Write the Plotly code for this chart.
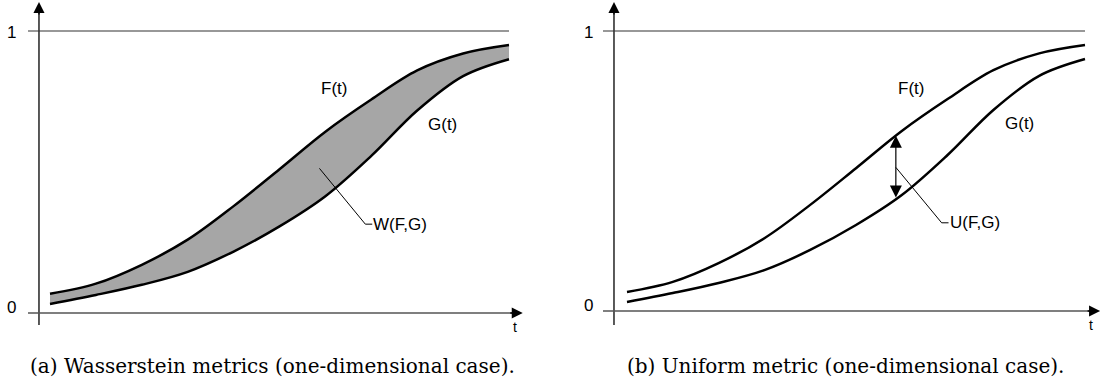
import numpy as np
import plotly.graph_objects as go

# ---- data ----
t_vals = [0, 1, 2, 3, 4, 5, 6, 7, 8, 9, 10]
F_vals = [0.068, 0.104, 0.171, 0.26, 0.379, 0.51, 0.643, 0.757, 0.86, 0.92, 0.95]
G_vals = [0.032, 0.064, 0.10, 0.146, 0.218, 0.307, 0.414, 0.557, 0.718, 0.84, 0.90]
t_star = 5.87  # position of the uniform-metric arrow
caption_a = "(a) Wasserstein metrics (one-dimensional case)."
caption_b = "(b) Uniform metric (one-dimensional case)."

W, H = 1104, 392
SANS = "Liberation Sans, Arial, Helvetica, sans-serif"
SERIF = "DejaVu Serif, Liberation Serif, serif"

fig = go.Figure()

# panel (a): filled area between F and G
fig.add_trace(go.Scatter(x=t_vals, y=G_vals, mode="lines", line=dict(width=0, shape="spline", color="#a6a6a6"),
                         xaxis="x", yaxis="y", showlegend=False, hoverinfo="skip"))
fig.add_trace(go.Scatter(x=t_vals, y=F_vals, mode="lines", line=dict(width=0, shape="spline", color="#a6a6a6"),
                         fill="tonexty", fillcolor="#a6a6a6",
                         xaxis="x", yaxis="y", showlegend=False, hoverinfo="skip"))
for ax, ay in (("x", "y"), ("x2", "y2")):
    for vals in (F_vals, G_vals):
        fig.add_trace(go.Scatter(x=t_vals, y=vals, mode="lines",
                                 line=dict(width=2.5, shape="spline", color="black"),
                                 xaxis=ax, yaxis=ay, showlegend=False, hoverinfo="skip"))

panels = [
    dict(xr="x", yr="y", xaxis_x=-0.24, xstart=-0.479, xtip=10.3, ybot=-0.0426, ytip=1.103,
         label="W(F,G)", cap=caption_a, capx=272),
    dict(xr="x2", yr="y2", xaxis_x=-0.284, xstart=-0.524, xtip=10.33, ybot=-0.05, ytip=1.1036,
         label="U(F,G)", cap=caption_b, capx=845),
]
shapes = []
annotations = []
Fi = float(np.interp(t_star, t_vals, F_vals))
Gi = float(np.interp(t_star, t_vals, G_vals))
mid = (Fi + Gi) / 2
for p in panels:
    xr, yr = p["xr"], p["yr"]
    shapes.append(dict(type="line", xref=xr, yref=yr, x0=p["xaxis_x"], x1=p["xaxis_x"], y0=p["ybot"], y1=p["ytip"] - 0.02,
                       line=dict(color="black", width=1.3)))
    shapes.append(dict(type="line", xref=xr, yref=yr, x0=p["xstart"], x1=p["xtip"] - 0.2, y0=0, y1=0,
                       line=dict(color="#555555", width=1.3)))
    shapes.append(dict(type="line", xref=xr, yref=yr, x0=p["xstart"], x1=10, y0=1, y1=1,
                       line=dict(color="#333333", width=1.2)))
    annotations.append(dict(xref=xr, yref=yr, x=p["xaxis_x"], y=p["ytip"], ax=0, ay=14, text="", showarrow=True,
                            arrowhead=2, arrowsize=1.7, arrowwidth=1.3, arrowcolor="black"))
    annotations.append(dict(xref=xr, yref=yr, x=p["xtip"], y=0, ax=-14, ay=0, text="", showarrow=True,
                            arrowhead=2, arrowsize=1.7, arrowwidth=1.3, arrowcolor="black"))
    annotations.append(dict(xref=xr, yref=yr, x=-0.83, y=0.993, text="1", showarrow=False,
                            font=dict(family=SANS, size=17, color="black")))
    annotations.append(dict(xref=xr, yref=yr, x=-0.83, y=0.018, text="0", showarrow=False,
                            font=dict(family=SANS, size=17, color="black")))
    annotations.append(dict(xref=xr, yref=yr, x=10.14, y=-0.05, text="t", showarrow=False,
                            font=dict(family=SANS, size=14, color="black")))
    annotations.append(dict(xref=xr, yref=yr, x=5.87, y=0.795, text="F(t)", showarrow=False, xanchor="left",
                            font=dict(family=SANS, size=17, color="black")))
    annotations.append(dict(xref=xr, yref=yr, x=8.2, y=0.668, text="G(t)", showarrow=False, xanchor="left",
                            font=dict(family=SANS, size=17, color="black")))
    shapes.append(dict(type="line", xref=xr, yref=yr, x0=t_star, x1=6.87, y0=mid, y1=0.315,
                       line=dict(color="black", width=1)))
    shapes.append(dict(type="line", xref=xr, yref=yr, x0=6.87, x1=7.02, y0=0.315, y1=0.315,
                       line=dict(color="black", width=1)))
    annotations.append(dict(xref=xr, yref=yr, x=7.0, y=0.315, text=p["label"], showarrow=False, xanchor="left",
                            font=dict(family=SANS, size=17, color="black")))
    annotations.append(dict(xref="paper", yref="paper", x=p["capx"] / W, y=1 - 366 / H, text=p["cap"],
                            xanchor="center", yanchor="middle",
                            showarrow=False, font=dict(family=SERIF, size=20, color="black")))

annotations.append(dict(xref="x2", yref="y2", x=t_star, y=Fi, ax=t_star, ay=Gi, axref="x2", ayref="y2",
                        text="", showarrow=True, arrowhead=2, arrowside="end+start", arrowsize=2.0,
                        arrowwidth=1.2, arrowcolor="black"))

ax_common = dict(visible=False, showgrid=False, zeroline=False, fixedrange=True)
fig.update_layout(
    width=W, height=H, margin=dict(l=0, r=0, t=0, b=0),
    paper_bgcolor="white", plot_bgcolor="white",
    xaxis=dict(domain=[0, 0.5], range=[-50 / 45.9, (552 - 50) / 45.9], **ax_common),
    yaxis=dict(domain=[0, 1], range=[(313 - 392) / 282, 313 / 282], **ax_common),
    xaxis2=dict(domain=[0.5, 1], range=[-75 / 45.8, (552 - 75) / 45.8], **ax_common),
    yaxis2=dict(domain=[0, 1], range=[(311 - 392) / 280, 311 / 280], anchor="x2", **ax_common),
    shapes=shapes, annotations=annotations,
)
fig.write_html("out.html")
